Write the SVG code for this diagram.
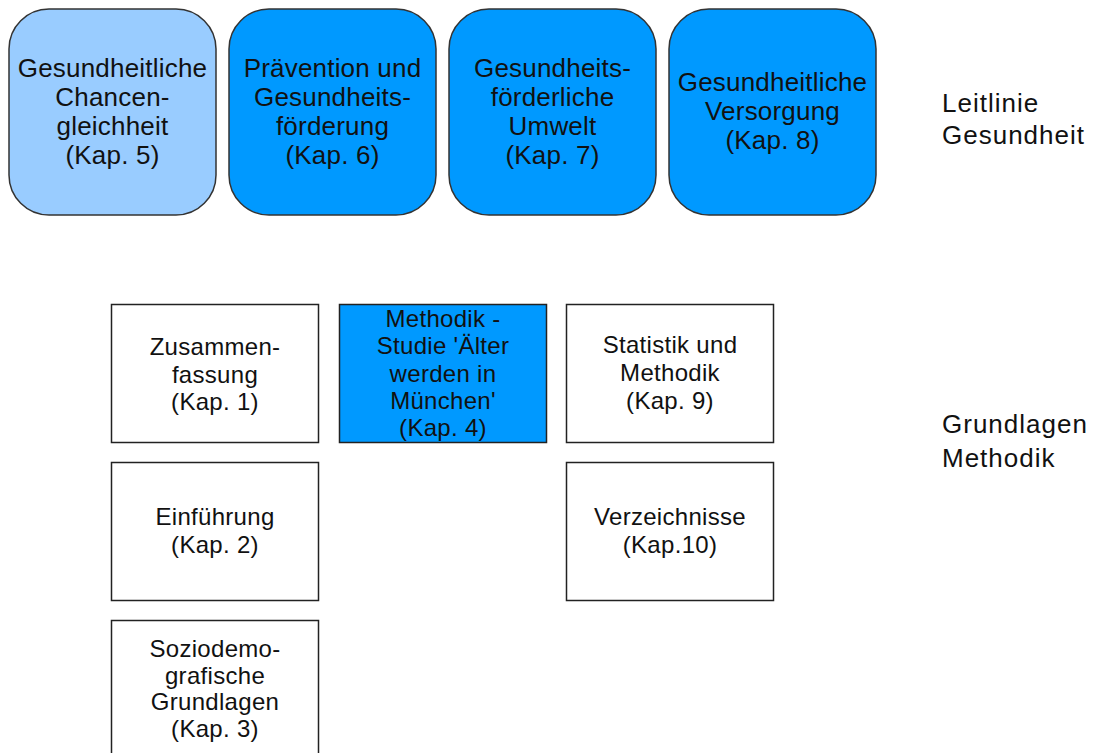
<svg xmlns="http://www.w3.org/2000/svg" width="1095" height="753" viewBox="0 0 1095 753">
<style>
.r{stroke:#333;stroke-width:1.5}
.lt{fill:#99ccff}
.dk{fill:#0099ff}
.w{fill:#fff}
.sq{stroke:#222;stroke-width:1.5}
text{font-family:"Liberation Sans",Arial,sans-serif;fill:#111;text-anchor:middle}
.t1{font-size:26px;letter-spacing:0.2px}
.t2{font-size:24px;letter-spacing:0.3px}
.lab{font-size:26px;letter-spacing:1px;text-anchor:start}
</style>
<g id="kap5"><rect class="r lt" x="9" y="9" width="207" height="206" rx="40"/>
<text class="t1" x="112.5"><tspan x="112.5" y="77">Gesundheitliche</tspan><tspan x="112.5" y="106">Chancen-</tspan><tspan x="112.5" y="135">gleichheit</tspan><tspan x="112.5" y="164">(Kap. 5)</tspan></text></g>
<g id="kap6"><rect class="r dk" x="229" y="9" width="207" height="206" rx="40"/>
<text class="t1"><tspan x="332.5" y="77">Prävention und</tspan><tspan x="332.5" y="106">Gesundheits-</tspan><tspan x="332.5" y="135">förderung</tspan><tspan x="332.5" y="164">(Kap. 6)</tspan></text></g>
<g id="kap7"><rect class="r dk" x="449" y="9" width="207" height="206" rx="40"/>
<text class="t1"><tspan x="552.5" y="77">Gesundheits-</tspan><tspan x="552.5" y="106">förderliche</tspan><tspan x="552.5" y="135">Umwelt</tspan><tspan x="552.5" y="164">(Kap. 7)</tspan></text></g>
<g id="kap8"><rect class="r dk" x="669" y="9" width="207" height="206" rx="40"/>
<text class="t1"><tspan x="772.5" y="91">Gesundheitliche</tspan><tspan x="772.5" y="120">Versorgung</tspan><tspan x="772.5" y="149">(Kap. 8)</tspan></text></g>
<g id="leitlinie"><text class="lab"><tspan x="942" y="112">Leitlinie</tspan><tspan x="942" y="144">Gesundheit</tspan></text></g>
<g id="kap1"><rect class="sq w" x="111.5" y="304.5" width="207" height="138"/>
<text class="t2"><tspan x="215" y="355">Zusammen-</tspan><tspan x="215" y="383">fassung</tspan><tspan x="215" y="410">(Kap. 1)</tspan></text></g>
<g id="kap4"><rect class="sq dk" x="339.5" y="304.5" width="207" height="138"/>
<text class="t2"><tspan x="443" y="327">Methodik -</tspan><tspan x="443" y="354">Studie 'Älter</tspan><tspan x="443" y="382">werden in</tspan><tspan x="443" y="409">München'</tspan><tspan x="443" y="436">(Kap. 4)</tspan></text></g>
<g id="kap9"><rect class="sq w" x="566.5" y="304.5" width="207" height="138"/>
<text class="t2"><tspan x="670" y="353">Statistik und</tspan><tspan x="670" y="381">Methodik</tspan><tspan x="670" y="409">(Kap. 9)</tspan></text></g>
<g id="kap2"><rect class="sq w" x="111.5" y="462.5" width="207" height="138"/>
<text class="t2"><tspan x="215" y="525">Einführung</tspan><tspan x="215" y="553">(Kap. 2)</tspan></text></g>
<g id="kap10"><rect class="sq w" x="566.5" y="462.5" width="207" height="138"/>
<text class="t2"><tspan x="670" y="525">Verzeichnisse</tspan><tspan x="670" y="553">(Kap.10)</tspan></text></g>
<g id="kap3"><rect class="sq w" x="111.5" y="620.5" width="207" height="140"/>
<text class="t2"><tspan x="215" y="657">Soziodemo-</tspan><tspan x="215" y="684">grafische</tspan><tspan x="215" y="710">Grundlagen</tspan><tspan x="215" y="737">(Kap. 3)</tspan></text></g>
<g id="grundlagen"><text class="lab"><tspan x="942" y="433">Grundlagen</tspan><tspan x="942" y="467">Methodik</tspan></text></g>
<g id="connectors"/>
</svg>
